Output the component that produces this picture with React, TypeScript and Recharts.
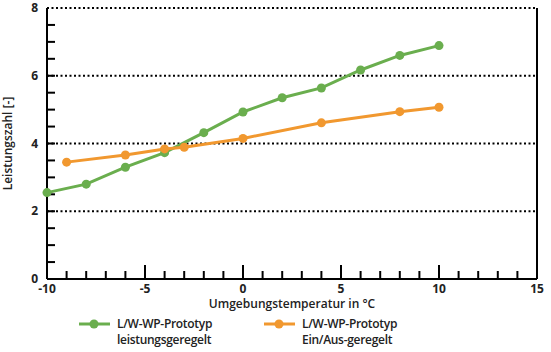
import { Label, Line, LineChart, ReferenceLine, XAxis, YAxis } from "recharts";

const tempsModulating = [-10, -8, -6, -4, -2, 0, 2, 4, 6, 8, 10];
const copModulating = [2.55, 2.8, 3.3, 3.73, 4.32, 4.93, 5.35, 5.64, 6.17, 6.6, 6.89];
const tempsOnOff = [-9, -6, -4, -3, 0, 4, 8, 10];
const copOnOff = [3.45, 3.66, 3.84, 3.89, 4.15, 4.61, 4.94, 5.07];

const xTicks = [-10, -9, -8, -7, -6, -5, -4, -3, -2, -1, 0, 1, 2, 3, 4, 5, 6, 7, 8, 9, 10, 11, 12, 13, 14, 15];
const yTicks = [0, 0.5, 1, 1.5, 2, 2.5, 3, 3.5, 4, 4.5, 5, 5.5, 6, 6.5, 7, 7.5, 8];
const gridValues = [2, 4, 6, 8];

const series = [
  { name: "modulating", label: ["L/W-WP-Prototyp", "leistungsgeregelt"], color: "#6aae4e", temps: tempsModulating, values: copModulating },
  { name: "onoff", label: ["L/W-WP-Prototyp", "Ein/Aus-geregelt"], color: "#f1982f", temps: tempsOnOff, values: copOnOff },
];

const font = "'Open Sans', 'DejaVu Sans', sans-serif";

// plot box in px, used to turn tick-mark lengths into axis units
const W = 551;
const H = 352;
const margin = { top: 8, right: 14, bottom: 43, left: 0 };
const yAxisW = 47;
const xAxisH = 30;
const plotW = W - margin.left - margin.right - yAxisW;
const plotH = H - margin.top - margin.bottom - xAxisH;
const xDomain: [number, number] = [-10, 15];
const yDomain: [number, number] = [0, 8];
const pxX = (xDomain[1] - xDomain[0]) / plotW;
const pxY = (yDomain[1] - yDomain[0]) / plotH;

function XTick(props: any) {
  const { x, y, payload } = props;
  const v = payload.value as number;
  if (v % 5 !== 0) return <g />;
  return (
    <text x={x} y={y + 14} textAnchor="middle" fontSize={12} fontWeight={700} fill="#222" fontFamily={font}>
      {v}
    </text>
  );
}

function YTick(props: any) {
  const { x, y, payload } = props;
  const v = payload.value as number;
  if (v % 2 !== 0) return <g />;
  return (
    <text x={x - 9} y={y + 4} textAnchor="end" fontSize={12} fontWeight={700} fill="#222" fontFamily={font}>
      {v}
    </text>
  );
}

function LegendBox() {
  return (
    <div style={{ position: "absolute", left: 0, top: 316, width: 551, height: 36, fontFamily: font, fontSize: 12, fontWeight: 600, color: "#222", letterSpacing: "-0.3px" }}>
      {series.map((s, i) => (
        <div key={s.name} style={{ position: "absolute", left: i === 0 ? 79 : 264, top: 0, display: "flex" }}>
          <svg width={34} height={16} style={{ flex: "none" }}>
            <line x1={0} x2={31} y1={8} y2={8} stroke={s.color} strokeWidth={3} />
            <circle cx={15} cy={8} r={4.5} fill={s.color} />
          </svg>
          <div style={{ marginLeft: 4, lineHeight: "16px" }}>
            {s.label[0]}
            <br />
            {s.label[1]}
          </div>
        </div>
      ))}
    </div>
  );
}

export default function App() {
  return (
    <div style={{ position: "absolute", left: 0, top: 0, width: W, height: H, background: "#fff" }}>
      <LineChart width={W} height={H} margin={margin}>
        {gridValues.map((g) => (
          <ReferenceLine key={`g${g}`} y={g} stroke="#000" strokeWidth={2} strokeDasharray="2 2.5" />
        ))}
        <ReferenceLine x={15} stroke="#000" strokeWidth={2} />
        {xTicks.slice(1, -1).map((t) => (
          <ReferenceLine
            key={`xt${t}`}
            segment={[{ x: t, y: 0 }, { x: t, y: (t % 5 === 0 ? 14 : 8) * pxY }]}
            stroke="#000"
            strokeWidth={2}
            ifOverflow="visible"
          />
        ))}
        {yTicks.slice(1, -1).map((t) => (
          <ReferenceLine
            key={`yt${t}`}
            segment={[{ x: xDomain[0], y: t }, { x: xDomain[0] + 8 * pxX, y: t }]}
            stroke="#000"
            strokeWidth={2}
            ifOverflow="visible"
          />
        ))}
        <XAxis
          type="number"
          dataKey="t"
          domain={xDomain}
          ticks={xTicks}
          interval={0}
          allowDuplicatedCategory={false}
          tick={(p: any) => <XTick {...p} />}
          tickLine={false}
          tickSize={0}
          tickMargin={0}
          axisLine={{ stroke: "#000", strokeWidth: 2 }}
          height={xAxisH}
        >
          <Label
            content={({ viewBox }: any) => (
              <text x={viewBox.x + viewBox.width / 2} y={viewBox.y + 29} textAnchor="middle" fontSize={12} fontWeight={600} fill="#222" fontFamily={font}>
                Umgebungstemperatur in °C
              </text>
            )}
          />
        </XAxis>
        <YAxis
          type="number"
          domain={yDomain}
          ticks={yTicks}
          interval={0}
          tick={(p: any) => <YTick {...p} />}
          tickLine={false}
          tickSize={0}
          tickMargin={0}
          axisLine={{ stroke: "#000", strokeWidth: 2 }}
          width={yAxisW}
        >
          <Label
            content={({ viewBox }: any) => {
              const cy = viewBox.y + viewBox.height / 2;
              return (
                <text x={12} y={cy} transform={`rotate(-90 12 ${cy})`} textAnchor="middle" fontSize={12} fontWeight={600} fill="#222" fontFamily={font}>
                  Leistungszahl [-]
                </text>
              );
            }}
          />
        </YAxis>
        {series.map((s) => (
          <Line
            key={s.name}
            data={s.temps.map((t, i) => ({ t, v: s.values[i] }))}
            dataKey="v"
            type="linear"
            stroke={s.color}
            strokeWidth={3}
            dot={{ r: 4.5, fill: s.color, stroke: s.color, strokeWidth: 0 }}
            isAnimationActive={false}
          />
        ))}
      </LineChart>
      <LegendBox />
    </div>
  );
}
